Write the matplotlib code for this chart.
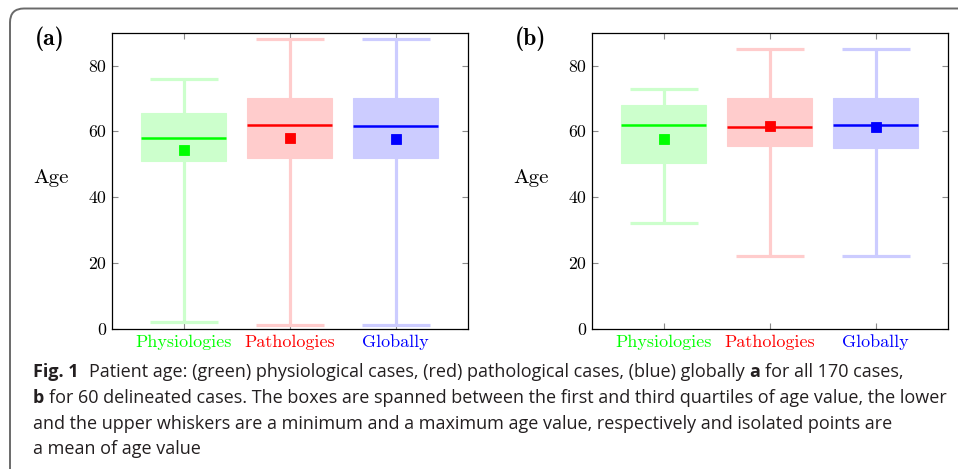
import matplotlib
matplotlib.use("Agg")
import matplotlib.pyplot as plt
from matplotlib.patches import FancyBboxPatch

# ---- data -------------------------------------------------------------
categories = ["Physiologies", "Pathologies", "Globally"]
line_colors = ["#00ff00", "#ff0000", "#0000ff"]
fill_colors = ["#ccffcc", "#ffcccc", "#ccccff"]

# (a) all 170 cases
a_min = [2, 1, 1]
a_q1 = [51.0, 52.0, 52.0]
a_med = [58.0, 62.0, 61.5]
a_q3 = [65.5, 70.0, 70.0]
a_max = [76, 88, 88]
a_mean = [54.2, 58.0, 57.7]

# (b) 60 delineated cases
b_min = [32, 22, 22]
b_q1 = [50.4, 55.6, 54.8]
b_med = [62.0, 61.4, 62.0]
b_q3 = [68.0, 70.0, 70.0]
b_max = [73, 85, 85]
b_mean = [57.7, 61.6, 61.2]

y_ticks = [0, 20, 40, 60, 80]

caption_lines = [
    [("Fig. 1", "bold", 0),
     ("Patient age: (green) physiological cases, (red) pathological cases, (blue) globally", "normal", 2.2),
     ("a", "bold", 1), ("for all 170 cases,", "normal", 1)],
    [("b", "bold", 0),
     ("for 60 delineated cases. The boxes are spanned between the first and third quartiles of age value, the lower",
      "normal", 1)],
    [("and the upper whiskers are a minimum and a maximum age value, respectively and isolated points are",
      "normal", 0)],
    [("a mean of age value", "normal", 0)],
]

# ---- figure -----------------------------------------------------------
W, H = 958, 469
DPI = 100
fig = plt.figure(figsize=(W / DPI, H / DPI), dpi=DPI)
fig.patch.set_facecolor("white")

# rounded frame around the figure block
frame = FancyBboxPatch((10 / DPI, -0.5), 12.0, (H - 8.5) / DPI + 0.5,
                       boxstyle="round,pad=0,rounding_size=0.14",
                       transform=fig.dpi_scale_trans, facecolor="none",
                       edgecolor="#6a6a6a", linewidth=1.4, clip_on=False)
fig.add_artist(frame)

CM = "cmr10"
CMB = "cmb10"


def draw_panel(left_px, tag, mins, q1s, meds, q3s, maxs, means):
    ax = fig.add_axes([left_px / W, 140.3 / H, 356 / W, 295.4 / H])
    stats = []
    for i, cat in enumerate(categories):
        stats.append(dict(whislo=mins[i], q1=q1s[i], med=meds[i], q3=q3s[i],
                          whishi=maxs[i], mean=means[i], fliers=[], label=cat))
    art = ax.bxp(stats, positions=[1, 2, 3], widths=0.8, capwidths=0.64,
                 patch_artist=True, showmeans=True, showfliers=False,
                 manage_ticks=False)
    for i in range(3):
        box = art["boxes"][i]
        box.set_facecolor(fill_colors[i])
        box.set_edgecolor(fill_colors[i])
        box.set_linewidth(0.8)
        box.set_zorder(2)
        for ln in art["whiskers"][2 * i:2 * i + 2] + art["caps"][2 * i:2 * i + 2]:
            ln.set_color(fill_colors[i])
            ln.set_linewidth(2.3)
            ln.set_solid_capstyle("butt")
            ln.set_zorder(2)
        med = art["medians"][i]
        med.set_color(line_colors[i])
        med.set_linewidth(1.8)
        med.set_solid_capstyle("butt")
        med.set_zorder(3)
        mn = art["means"][i]
        mn.set_marker("s")
        mn.set_markersize(7.2)
        mn.set_markerfacecolor(line_colors[i])
        mn.set_markeredgecolor(line_colors[i])
        mn.set_markeredgewidth(0.6)
        mn.set_zorder(4)

    ax.set_xlim(0.32, 3.68)
    ax.set_ylim(0, 89.8)
    ax.set_xticks([1, 2, 3])
    ax.set_xticklabels(categories, family=CM, fontsize=13)
    for lab, c in zip(ax.get_xticklabels(), line_colors):
        lab.set_color(c)
    ax.set_yticks(y_ticks)
    ax.set_yticklabels([str(v) for v in y_ticks], family=CM, fontsize=12.8)
    ax.tick_params(direction="in", length=4.2, width=0.8, color="#8a8a8a",
                   top=True, right=True, pad=4)
    ax.tick_params(axis="x", pad=4)
    for sp in ax.spines.values():
        sp.set_linewidth(0.9)
        sp.set_color("black")

    fig.text((left_px - 61) / W, 1 - 178 / H, "Age", family=CM, fontsize=15,
             ha="center", va="center")
    fig.text((left_px - 77) / W, 1 - 39 / H, tag, family=CMB, fontsize=17,
             ha="left", va="center")
    return ax


draw_panel(111.7, "(a)", a_min, a_q1, a_med, a_q3, a_max, a_mean)
draw_panel(591.7, "(b)", b_min, b_q1, b_med, b_q3, b_max, b_mean)

# ---- caption ----------------------------------------------------------
renderer = fig.canvas.get_renderer()
CAP_FONT = ["Open Sans", "Noto Sans", "DejaVu Sans"]


def text_width(s, size, weight):
    t = fig.text(0, 0, s, fontsize=size, fontweight=weight, family=CAP_FONT)
    w = t.get_window_extent(renderer).width
    t.remove()
    return w


def line_width(runs, size):
    sp = text_width("x x", size, "normal") - text_width("xx", size, "normal")
    total = 0.0
    for s, wgt, gap in runs:
        total += gap * sp + text_width(s, size, wgt)
    return total


# scale the caption so that the longest line spans the caption block
ref_size = 10.0
cap_size = ref_size * (947 - 33) / line_width(caption_lines[1], ref_size)

space_w = text_width("x x", cap_size, "normal") - text_width("xx", cap_size, "normal")
baselines = [377, 403, 429, 454]
for runs, base in zip(caption_lines, baselines):
    x = 33.0
    for s, wgt, gap in runs:
        x += gap * space_w
        t = fig.text(x / W, 1 - base / H, s, fontsize=cap_size, fontweight=wgt,
                     family=CAP_FONT, ha="left", va="baseline", color="#231f20")
        x += t.get_window_extent(renderer).width

fig.savefig("out.png", dpi=DPI, facecolor="white")
